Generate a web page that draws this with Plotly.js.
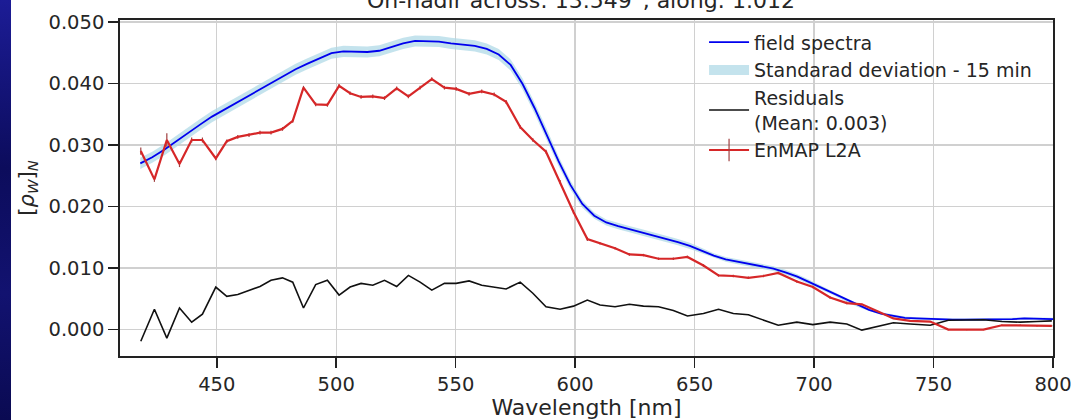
<!DOCTYPE html>
<html>
<head>
<meta charset="utf-8">
<script src="https://cdn.plot.ly/plotly-3.0.1.min.js"></script>
<style>
  html, body { margin: 0; padding: 0; width: 1072px; height: 420px; overflow: hidden;
    background: linear-gradient(to bottom, #1c1c96 0%, #0c0c5c 40%, #121270 70%, #0a0a52 100%); }
  #plot { position: absolute; left: 11px; top: 0; width: 1061px; height: 420px; background: #fff; }
</style>
</head>
<body>
<div id="plot"></div>
<script>
// ---- field spectra (high resolution, smooth) ----
const fieldWl = [418,423,428,433,438,443,448,453,458,463,468,473,478,483,488,493,498,503,508,513,
  518,523,528,533,538,543,548,553,558,563,568,573,578,583,588,593,598,603,608,613,
  618,623,628,633,638,643,648,653,658,663,668,673,678,683,688,693,698,703,708,713,
  718,723,728,733,738,743,748,753,758,763,768,773,778,783,788,793,798,800];
const fieldRho = [0.0270,0.0280,0.0292,0.0306,0.0320,0.0333,0.0346,0.0357,0.0369,0.0380,
  0.0391,0.0402,0.0413,0.0423,0.0432,0.0441,0.0449,0.0452,0.0452,0.0451,
  0.0453,0.0459,0.0465,0.0469,0.0469,0.0468,0.0465,0.0463,0.0461,0.0456,
  0.0447,0.0430,0.0399,0.0360,0.0318,0.0274,0.0235,0.0204,0.0185,0.0174,
  0.0168,0.0163,0.0158,0.0153,0.0148,0.0142,0.0136,0.0128,0.0120,0.0114,
  0.0110,0.0106,0.0103,0.0099,0.0093,0.0086,0.0077,0.0068,0.0059,0.0049,
  0.0040,0.0032,0.0026,0.0022,0.0019,0.0018,0.0017,0.0017,0.0016,0.0016,
  0.0016,0.0016,0.0017,0.0017,0.0018,0.0018,0.0018,0.0017];
const fieldStd = [0.0009,0.0009,0.0009,0.0009,0.0009,0.0009,0.0009,0.0009,0.0009,0.0009,
  0.0009,0.0009,0.0009,0.0009,0.0009,0.0009,0.0009,0.0009,0.0009,0.0009,
  0.0009,0.0009,0.0009,0.0009,0.0009,0.0009,0.0009,0.0009,0.0009,0.0009,
  0.0009,0.0009,0.0009,0.0009,0.0009,0.0008,0.0007,0.0006,0.0005,0.0005,
  0.0005,0.0005,0.0005,0.0005,0.0005,0.0005,0.0005,0.0004,0.0004,0.0004,
  0.0004,0.0004,0.0004,0.0004,0.0004,0.0004,0.0004,0.0003,0.0003,0.0003,
  0.0003,0.0002,0.0002,0.0002,0.0002,0.0002,0.0002,0.0002,0.0002,0.0002,
  0.0002,0.0002,0.0002,0.0002,0.0002,0.0002,0.0002,0.0002];

// ---- EnMAP L2A bands ----
const enmapWl = [418.2,423.9,429.1,434.4,439.5,444.0,449.6,454.2,458.8,463.5,
  468.1,472.7,477.5,481.8,486.3,491.4,496.3,501.2,505.8,510.4,
  515.3,520.2,525.3,530.2,535.1,540.0,545.3,550.2,555.6,560.9,
  566.1,571.1,577.0,582.3,587.8,593.7,599.3,605.1,610.4,616.7,
  622.7,628.6,634.9,641.1,647.0,653.7,660.0,666.2,672.5,678.8,
  685.0,692.8,699.5,706.7,713.7,720.0,727.0,733.2,740.2,748.6,
  756.2,763.9,770.9,778.6,786.3,793.3,799.5];
const enmapRho = [0.0290,0.0244,0.0308,0.0269,0.0308,0.0308,0.0278,0.0306,0.0313,0.0316,
  0.0320,0.0320,0.0326,0.0339,0.0393,0.0366,0.0365,0.0396,0.0384,0.0378,
  0.0379,0.0376,0.0392,0.0379,0.0393,0.0407,0.0393,0.0391,0.0383,0.0387,
  0.0382,0.0370,0.0329,0.0308,0.0289,0.0240,0.0191,0.0147,0.0140,0.0132,
  0.0122,0.0121,0.0115,0.0115,0.0118,0.0104,0.0088,0.0087,0.0084,0.0087,
  0.0092,0.0078,0.0069,0.0052,0.0043,0.0041,0.0029,0.0018,0.0014,0.0013,
  0.0000,0.0000,0.0000,0.0007,0.0007,0.0006,0.0006];
const enmapErr = [0.0006,0.0004,0.0011,0.0005,0.0004,0.0004,0.0003,0.0003,0.0003,0.0003,
  0.0003,0.0003,0.0003,0.0003,0.0003,0.0003,0.0003,0.0003,0.0003,0.0003,
  0.0003,0.0003,0.0003,0.0003,0.0003,0.0003,0.0003,0.0003,0.0003,0.0003,
  0.0003,0.0003,0.0003,0.0003,0.0003,0.0003,0.0003,0.0003,0.0002,0.0002,
  0.0002,0.0002,0.0002,0.0002,0.0002,0.0002,0.0002,0.0002,0.0002,0.0002,
  0.0002,0.0002,0.0002,0.0002,0.0002,0.0001,0.0001,0.0001,0.0001,0.0001,
  0.0001,0.0001,0.0001,0.0001,0.0001,0.0001,0.0001];
const residual = [-0.0019,0.0033,-0.0014,0.0035,0.0012,0.0025,0.0069,0.0054,0.0057,0.0064,
  0.0070,0.0080,0.0084,0.0077,0.0035,0.0073,0.0080,0.0056,0.0069,0.0075,
  0.0072,0.0080,0.0070,0.0088,0.0077,0.0064,0.0075,0.0075,0.0079,0.0072,
  0.0069,0.0066,0.0077,0.0059,0.0037,0.0033,0.0038,0.0048,0.0040,0.0037,
  0.0041,0.0038,0.0037,0.0031,0.0022,0.0026,0.0033,0.0026,0.0024,0.0016,
  0.0007,0.0012,0.0008,0.0012,0.0009,-0.0001,0.0005,0.0011,0.0009,0.0007,
  0.0015,0.0016,0.0016,0.0013,0.0012,0.0013,0.0014];

// ---- axes ----
const xTickVals = [450,500,550,600,650,700,750,800];
const yTickVals = [0.000,0.010,0.020,0.030,0.040,0.050];
const yTickText = ['0.000','0.010','0.020','0.030','0.040','0.050'];

const titleText = 'On-nadir across: 13.549°, along: 1.012°';
const residualLabel = 'Residuals<br>(Mean: 0.003)';

const lower = fieldRho.map((v, i) => v - fieldStd[i]);
const upper = fieldRho.map((v, i) => v + fieldStd[i]);

const FONT = 'DejaVu Sans, sans-serif';
const TXT = '#262626';
const BAND = 'rgba(173,216,230,0.72)';

const traces = [
  { x: fieldWl, y: lower, mode: 'lines', line: {width: 0, color: 'rgba(0,0,0,0)'},
    showlegend: false, hoverinfo: 'skip' },
  { x: fieldWl, y: upper, mode: 'lines', fill: 'tonexty',
    fillcolor: BAND, line: {width: 0, color: BAND},
    showlegend: false, legendgroup: 'std' },
  { x: [null], y: [null], mode: 'lines', line: {color: BAND, width: 15},
    name: 'Standarad deviation - 15 min', legendgroup: 'std', legendrank: 2 },
  { x: fieldWl, y: fieldRho, mode: 'lines', line: {color: '#0000ee', width: 1.8},
    name: 'field spectra', legendrank: 1 },
  { x: enmapWl, y: residual, mode: 'lines', line: {color: '#111111', width: 1.6},
    name: residualLabel, legendrank: 3 },
  { x: enmapWl, y: enmapRho, mode: 'lines', line: {color: '#d62728', width: 2.2},
    error_y: {type: 'data', array: enmapErr, visible: true, color: '#a04040', thickness: 1.2, width: 0},
    name: 'EnMAP L2A', showlegend: false, legendgroup: 'enmap' },
  { x: [null], y: [null], mode: 'lines+markers', line: {color: '#d62728', width: 2.2},
    marker: {symbol: 'line-ns-open', size: 16, color: '#a04040', line: {color: '#a04040', width: 1.2}},
    name: 'EnMAP L2A', legendgroup: 'enmap', legendrank: 4 }
];

const axisCommon = {
  showline: true, linecolor: '#222222', linewidth: 1.8, mirror: true,
  ticks: 'outside', ticklen: 10, tickwidth: 1.6, tickcolor: '#222222',
  showgrid: true, gridcolor: '#d0d0d0', gridwidth: 1.4, zeroline: false,
  ticklabeloverflow: 'allow',
  tickfont: {family: FONT, size: 19.5, color: TXT}
};

const layout = {
  width: 1061, height: 420,
  margin: {l: 109, r: 19, t: 20, b: 64},
  paper_bgcolor: '#ffffff', plot_bgcolor: '#ffffff',
  showlegend: true,
  title: {text: titleText, x: 0.5, xref: 'paper', xanchor: 'center',
    y: 1, yref: 'container', yanchor: 'middle',
    font: {family: FONT, size: 22, color: TXT}},
  xaxis: Object.assign({}, axisCommon, {
    range: [409.5, 800], tickvals: xTickVals,
    title: {text: 'Wavelength [nm]', font: {family: FONT, size: 22, color: TXT}, standoff: 6}
  }),
  yaxis: Object.assign({}, axisCommon, {
    range: [-0.0043, 0.0503], tickvals: yTickVals, ticktext: yTickText,
    title: {text: '[<i>ρ</i><sub><i>W</i></sub>]<sub><i>N</i></sub>', font: {family: FONT, size: 21, color: TXT}, standoff: 8}
  }),
  legend: {
    x: 0.626, y: 0.99, xanchor: 'left', yanchor: 'top',
    bgcolor: 'rgba(255,255,255,0)', borderwidth: 0,
    font: {family: FONT, size: 19, color: TXT},
    itemwidth: 40, tracegroupgap: 0, traceorder: 'normal'
  }
};

Plotly.newPlot('plot', traces, layout, {displayModeBar: false, staticPlot: true});
</script>
</body>
</html>
